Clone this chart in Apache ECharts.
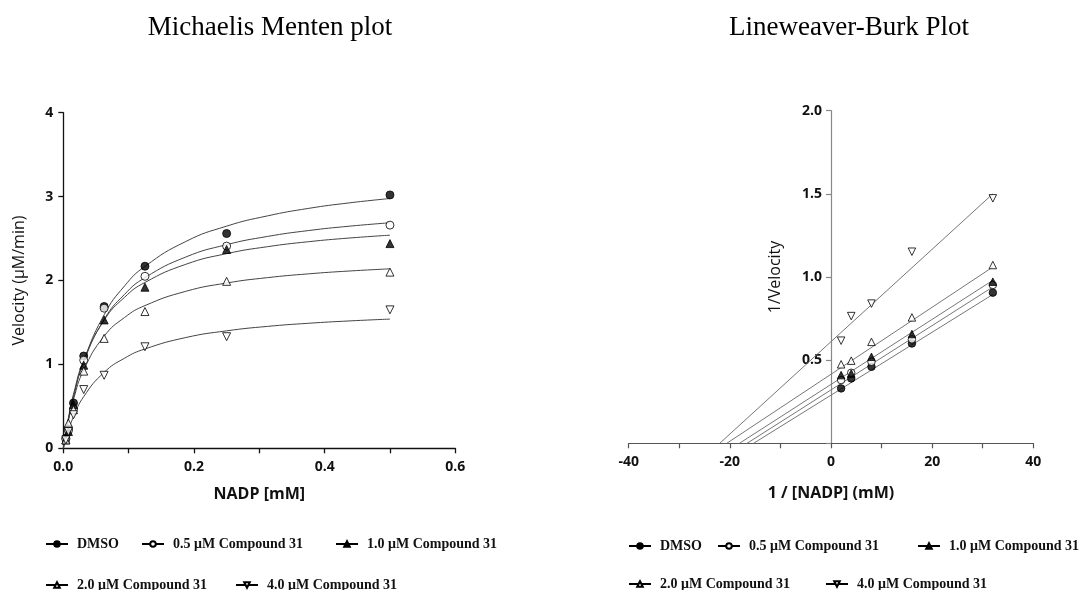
<!DOCTYPE html>
<html><head><meta charset="utf-8">
<script src="https://cdn.jsdelivr.net/npm/echarts@6/dist/echarts.min.js"></script>
<style>html,body{margin:0;padding:0;background:#fff}#c{width:1084px;height:590px}</style>
</head><body><div id="c"></div>
<script>
// ---------- data ----------
const seriesNames = ['DMSO', '0.5 μM Compound 31', '1.0 μM Compound 31', '2.0 μM Compound 31', '4.0 μM Compound 31'];
// Michaelis-Menten: substrate [NADP] (mM)
const nadp = [0.00390625, 0.0078125, 0.015625, 0.03125, 0.0625, 0.125, 0.25, 0.5];
const vDMSO = [0.12, 0.23, 0.54, 1.10, 1.69, 2.17, 2.56, 3.02];
const v05   = [0.11, 0.21, 0.47, 1.05, 1.67, 2.05, 2.41, 2.66];
const v10   = [0.10, 0.20, 0.52, 0.99, 1.53, 1.92, 2.37, 2.44];
const v20   = [0.10, 0.30, 0.46, 0.92, 1.31, 1.63, 1.99, 2.10];
const v40   = [0.10, 0.20, 0.40, 0.70, 0.87, 1.21, 1.33, 1.65];
// fitted curves
const curveX     = [0, 0.0039, 0.0078, 0.0156, 0.03125, 0.0625, 0.09375, 0.125, 0.1875, 0.25, 0.3125, 0.375, 0.4375, 0.5];
const curveDMSO  = [0, 0.177, 0.337, 0.613, 1.038, 1.591, 1.935, 2.168, 2.465, 2.648, 2.770, 2.859, 2.925, 2.977];
const curve05    = [0, 0.184, 0.346, 0.621, 1.031, 1.536, 1.835, 2.034, 2.280, 2.427, 2.525, 2.595, 2.647, 2.688];
const curve10    = [0, 0.194, 0.364, 0.644, 1.048, 1.526, 1.800, 1.977, 2.193, 2.320, 2.403, 2.462, 2.506, 2.540];
const curve20    = [0, 0.179, 0.333, 0.583, 0.934, 1.336, 1.559, 1.701, 1.871, 1.970, 2.034, 2.079, 2.113, 2.139];
const curve40    = [0, 0.112, 0.210, 0.375, 0.616, 0.905, 1.074, 1.184, 1.320, 1.400, 1.453, 1.490, 1.518, 1.540];
// Lineweaver-Burk: 1/[NADP]
const invS   = [2, 4, 8, 16, 32];
const lbDMSO = [0.33, 0.39, 0.46, 0.60, 0.906];
const lb05   = [0.38, 0.424, 0.49, 0.625, 0.952];
const lb10   = [0.41, 0.42, 0.52, 0.657, 0.972];
const lb20   = [0.475, 0.497, 0.61, 0.757, 1.072];
const lb40   = [0.617, 0.765, 0.84, 1.152, 1.473];
// fitted lines: x-intercept and value at x=32
const lbLineX = [-15.3, -16.6, -18.1, -20.6, -22.0];
const lbLineEnd = [0.895, 0.94, 0.98, 1.06, 1.50];
const lbLineEndX = 32;

// ---------- styles ----------
const symbols = [
  {symbol:'circle', rot:0, fill:'#000'},
  {symbol:'circle', rot:0, fill:'#fff'},
  {symbol:'triangle', rot:0, fill:'#000'},
  {symbol:'triangle', rot:0, fill:'#fff'},
  {symbol:'triangle', rot:180, fill:'#fff'}
];
const mmData = [vDMSO, v05, v10, v20, v40];
const mmCurves = [curveDMSO, curve05, curve10, curve20, curve40];
const lbData = [lbDMSO, lb05, lb10, lb20, lb40];

const tickFont = {fontFamily:'Open Sans', fontWeight:'bold', fontSize:14, color:'#111'};
const nameFont = {fontFamily:'Open Sans', fontWeight:'normal', fontSize:16, color:'#111'};

const series = [];
mmCurves.forEach((c, i) => {
  series.push({type:'line', name:'mmfit'+i, xAxisIndex:0, yAxisIndex:0, smooth:true, symbol:'none',
    lineStyle:{color:'#444', width:1}, data: curveX.map((x, k) => [x, c[k]]), silent:true, z:2});
});
mmData.forEach((d, i) => {
  const s = symbols[i];
  series.push({type:'scatter', name:'mm'+i, xAxisIndex:0, yAxisIndex:0, symbol:s.symbol, symbolRotate:s.rot,
    symbolSize: 8,
    itemStyle:{color:s.fill, borderColor:'#000', borderWidth:1}, data: nadp.map((x, k) => [x, d[k]]), z:3});
});
lbLineX.forEach((x0, i) => {
  series.push({type:'line', name:'lbfit'+i, xAxisIndex:1, yAxisIndex:1, symbol:'none',
    lineStyle:{color:'#777', width:1}, data:[[x0, 0], [lbLineEndX, lbLineEnd[i]]], silent:true, z:2});
});
lbData.forEach((d, i) => {
  const s = symbols[i];
  series.push({type:'scatter', name:'lb'+i, xAxisIndex:1, yAxisIndex:1, symbol:s.symbol, symbolRotate:s.rot,
    symbolSize: 7.5,
    itemStyle:{color:s.fill, borderColor:'#000', borderWidth:1}, data: invS.map((x, k) => [x, d[k]]), z:3});
});
// legend-only series
seriesNames.forEach((n, i) => {
  const s = symbols[i];
  series.push({type:'line', name:n, xAxisIndex:0, yAxisIndex:0, data:[], symbol:s.symbol, symbolRotate:s.rot,
    symbolSize:5, itemStyle:{color:s.fill, borderColor:'#000', borderWidth:1}, lineStyle:{color:'#000', width:1}});
});

const legendPos = [
  [40, 541], [136, 541], [330, 541], [40, 582], [230, 582],
  [623, 543], [712, 543], [912, 543], [623, 581], [820, 581]
];
const legends = legendPos.map((p, k) => ({
  data:[seriesNames[k % 5]], left:p[0], top:p[1] - 9, itemWidth:22, itemHeight:7, selectedMode:false,
  textStyle:{fontFamily:'Liberation Serif', fontWeight:'bold', fontSize:14, color:'#111', padding:[0,0,0,4]}
}));

// right plot: y axis sits at x = 0 of the x axis (middle of the grid)
const rightGrid = {left:628.7, right:50.7, top:110.7, bottom:146.7};
const rightGridWidth = 1084 - rightGrid.left - rightGrid.right;

const option = {
  animation:false,
  title:[
    {text:'Michaelis Menten plot', left:265, top:9, textAlign:'center',
     textStyle:{fontFamily:'Liberation Serif', fontWeight:'normal', fontSize:27, color:'#000'}},
    {text:'Lineweaver-Burk Plot', left:844, top:9, textAlign:'center',
     textStyle:{fontFamily:'Liberation Serif', fontWeight:'normal', fontSize:27, color:'#000'}}
  ],
  legend: legends,
  grid:[
    {left:63.3, right:628.7, top:112.7, bottom:141.7},
    rightGrid
  ],
  xAxis:[
    {type:'value', gridIndex:0, min:0, max:0.6, interval:0.1, name:'NADP [mM]', nameLocation:'middle', nameGap:38,
     nameTextStyle:Object.assign({}, nameFont, {fontWeight:'bold'}),
     axisLine:{lineStyle:{color:'#111', width:1.3}}, axisTick:{length:5, lineStyle:{color:'#111', width:1.3}},
     axisLabel:Object.assign({margin:12, formatter:v => (Math.round(v*10) % 2 === 0 ? v.toFixed(1) : '')}, tickFont),
     splitLine:{show:false}},
    {type:'value', gridIndex:1, min:-40, max:40, interval:10, name:'1 / [NADP] (mM)', nameLocation:'middle', nameGap:42,
     nameTextStyle:Object.assign({}, nameFont, {fontWeight:'bold'}),
     axisLine:{onZero:false, lineStyle:{color:'#555', width:1.2}}, axisTick:{length:5, lineStyle:{color:'#555', width:1.2}},
     axisLabel:Object.assign({margin:12, formatter:v => (Math.round(v) % 20 === 0 ? String(v) : '')}, tickFont),
     splitLine:{show:false}}
  ],
  yAxis:[
    {type:'value', gridIndex:0, min:0, max:4, interval:1, name:'Velocity (μM/min)', nameLocation:'middle', nameGap:36,
     nameTextStyle:nameFont,
     axisLine:{show:true, lineStyle:{color:'#111', width:1.3}}, axisTick:{show:true, length:5, lineStyle:{color:'#111', width:1.3}},
     axisLabel:Object.assign({margin:10}, tickFont), splitLine:{show:false}},
    {type:'value', gridIndex:1, min:0, max:2, interval:0.5, name:'1/Velocity', nameLocation:'middle', nameGap:48,
     offset: -rightGridWidth / 2,
     nameTextStyle:nameFont,
     axisLine:{show:true, onZero:false, lineStyle:{color:'#888', width:1.2}}, axisTick:{show:true, length:5, lineStyle:{color:'#888', width:1.2}},
     axisLabel:Object.assign({margin:9, formatter:v => (v === 0 ? '' : v.toFixed(1))}, tickFont), splitLine:{show:false}}
  ],
  series: series
};
const chart = echarts.init(document.getElementById('c'), null, {renderer:'canvas'});
chart.setOption(option);
</script></body></html>
